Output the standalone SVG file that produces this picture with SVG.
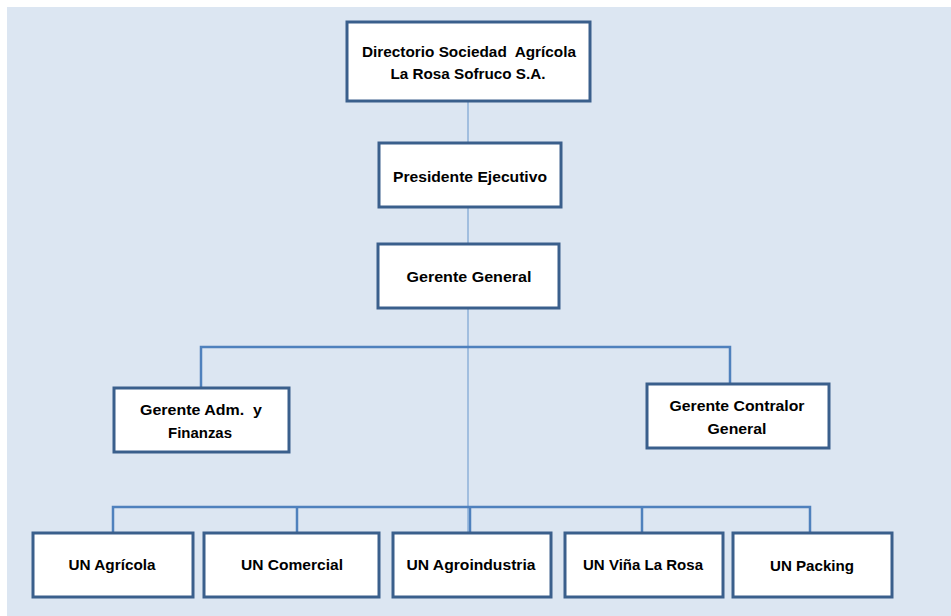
<svg xmlns="http://www.w3.org/2000/svg" width="951" height="616" viewBox="0 0 951 616">
<style>
.box{fill:#ffffff;stroke:#3a5f8c;stroke-width:3}
.t{font-family:"Liberation Sans",Arial,sans-serif;font-weight:bold;font-size:15px;fill:#000;text-anchor:middle;white-space:pre}
.bar{fill:none;stroke:#4f81bd;stroke-width:2.5}
.trunk{fill:none;stroke:#8eb0d8;stroke-width:1.5}
</style>
<rect x="7" y="7" width="944" height="609" fill="#dce6f2"/>
<g id="connectors">
<line class="trunk" x1="468" y1="101" x2="468" y2="143"/>
<line class="trunk" x1="468" y1="207" x2="468" y2="244"/>
<line class="trunk" x1="468" y1="308" x2="468" y2="533"/>
<path class="bar" d="M201 388 V347 H730 V384"/>
<path class="bar" d="M113 533 V507 H810 V533"/>
<line class="bar" x1="297" y1="507" x2="297" y2="533"/>
<line class="bar" x1="470" y1="507" x2="470" y2="533"/>
<line class="bar" x1="642" y1="507" x2="642" y2="533"/>
</g>
<g id="directorio">
<rect class="box" x="347" y="22" width="243" height="79"/>
<text class="t" x="469" y="57" textLength="214" lengthAdjust="spacingAndGlyphs" xml:space="preserve">Directorio Sociedad  Agrícola</text>
<text class="t" x="468" y="79" textLength="155" lengthAdjust="spacingAndGlyphs">La Rosa Sofruco S.A.</text>
</g>
<g id="presidente">
<rect class="box" x="379" y="143" width="182" height="64"/>
<text class="t" x="470" y="182" textLength="154" lengthAdjust="spacingAndGlyphs">Presidente Ejecutivo</text>
</g>
<g id="gerente-general">
<rect class="box" x="378" y="244" width="181" height="64"/>
<text class="t" x="469" y="282" textLength="125" lengthAdjust="spacingAndGlyphs">Gerente General</text>
</g>
<g id="gerente-adm">
<rect class="box" x="114" y="388" width="175" height="64"/>
<text class="t" x="201" y="415" textLength="122" lengthAdjust="spacingAndGlyphs" xml:space="preserve">Gerente Adm.  y</text>
<text class="t" x="200" y="438" textLength="64" lengthAdjust="spacingAndGlyphs">Finanzas</text>
</g>
<g id="gerente-contralor">
<rect class="box" x="647" y="384" width="182" height="64"/>
<text class="t" x="737" y="411" textLength="135" lengthAdjust="spacingAndGlyphs">Gerente Contralor</text>
<text class="t" x="737" y="434" textLength="59" lengthAdjust="spacingAndGlyphs">General</text>
</g>
<g id="un-agricola">
<rect class="box" x="33" y="533" width="160" height="64"/>
<text class="t" x="112" y="570" textLength="87" lengthAdjust="spacingAndGlyphs">UN Agrícola</text>
</g>
<g id="un-comercial">
<rect class="box" x="204" y="533" width="175" height="64"/>
<text class="t" x="292" y="570" textLength="102" lengthAdjust="spacingAndGlyphs">UN Comercial</text>
</g>
<g id="un-agroindustria">
<rect class="box" x="393" y="533" width="158" height="64"/>
<text class="t" x="471" y="570" textLength="129" lengthAdjust="spacingAndGlyphs">UN Agroindustria</text>
</g>
<g id="un-vina">
<rect class="box" x="565" y="533" width="158" height="64"/>
<text class="t" x="643" y="570" textLength="120" lengthAdjust="spacingAndGlyphs">UN Viña La Rosa</text>
</g>
<g id="un-packing">
<rect class="box" x="733" y="533" width="159" height="64"/>
<text class="t" x="812" y="571" textLength="84" lengthAdjust="spacingAndGlyphs">UN Packing</text>
</g>
</svg>
